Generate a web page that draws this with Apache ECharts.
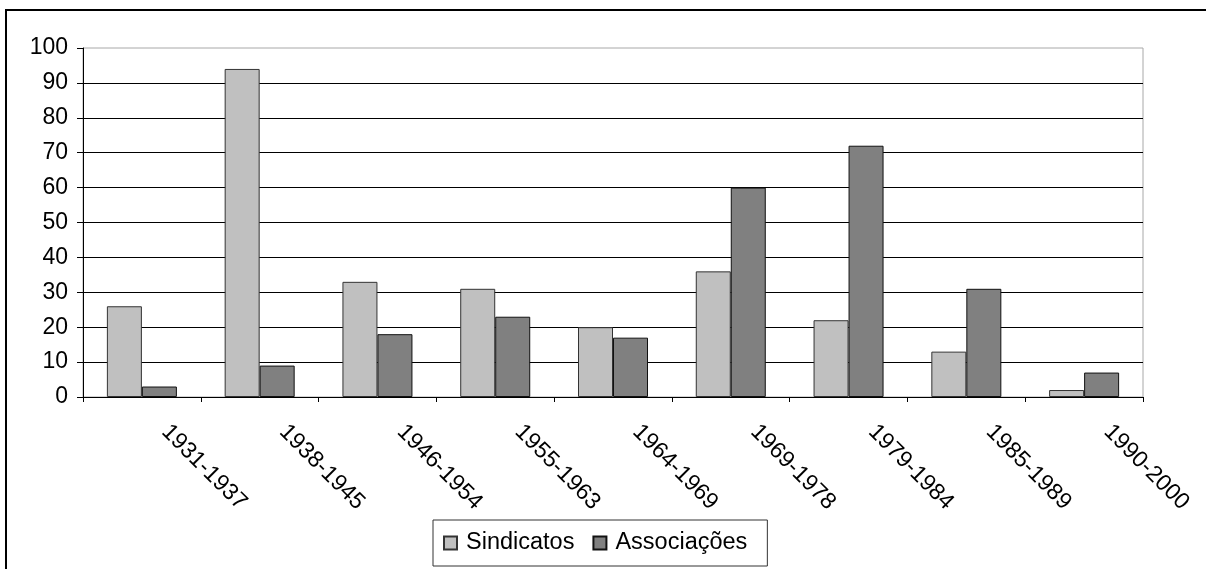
<!DOCTYPE html>
<html>
<head>
<meta charset="utf-8">
<script src="https://cdn.jsdelivr.net/npm/echarts@6/dist/echarts.min.js"></script>
<style>
  html, body { margin: 0; padding: 0; background: #fff; }
  #chart { width: 1206px; height: 569px; }
</style>
</head>
<body>
<div id="chart"></div>
<script>
// Periods on the horizontal axis
const periods = ['1931-1937', '1938-1945', '1946-1954', '1955-1963', '1964-1969',
                 '1969-1978', '1979-1984', '1985-1989', '1990-2000'];
// Counts per period
const sindicatos = [26, 94, 33, 31, 20, 36, 22, 13, 2];
const associacoes = [3, 9, 18, 23, 17, 60, 72, 31, 7];
const seriesNames = ['Sindicatos', 'Associações'];

const FONT = "'Liberation Sans', Arial, sans-serif";

const chart = echarts.init(document.getElementById('chart'), null, { renderer: 'canvas' });

chart.setOption({
  backgroundColor: '#ffffff',
  animation: false,
  textStyle: { fontFamily: FONT, color: '#000' },
  graphic: [
    {
      type: 'rect',
      shape: { x: 6, y: 10, width: 1400, height: 800 },
      style: { fill: 'none', stroke: '#000', lineWidth: 2 },
      silent: true
    }
  ],
  grid: {
    left: 83, right: 63, top: 48, bottom: 172,
    show: true,
    borderColor: '#a8a8a8',
    borderWidth: 1,
    backgroundColor: 'transparent'
  },
  legend: {
    data: seriesNames,
    left: 433,
    top: 520,
    orient: 'horizontal',
    icon: 'rect',
    itemWidth: 13,
    itemHeight: 13,
    itemGap: 18,
    padding: [11, 20, 11, 10],
    borderColor: '#333',
    borderWidth: 1,
    textStyle: {
      fontFamily: FONT,
      fontSize: 23.5,
      color: '#000',
      lineHeight: 24,
      padding: [0, 0, 0, 4]
    }
  },
  xAxis: {
    type: 'category',
    data: periods,
    boundaryGap: true,
    axisLine: { lineStyle: { color: '#000', width: 1 } },
    axisTick: { show: true, length: 5, alignWithLabel: false, lineStyle: { color: '#000' } },
    axisLabel: {
      rotate: -45,
      fontFamily: FONT,
      fontSize: 23,
      color: '#000',
      margin: 8,
      padding: [0, 0, 0, 33],
      interval: 0
    },
    splitLine: { show: false }
  },
  yAxis: {
    type: 'value',
    min: 0,
    max: 100,
    interval: 10,
    axisLine: { show: true, lineStyle: { color: '#000', width: 1 } },
    axisTick: { show: true, length: 6, lineStyle: { color: '#000' } },
    axisLabel: { fontFamily: FONT, fontSize: 23, color: '#000', margin: 15 },
    splitLine: { show: true, showMaxLine: false, lineStyle: { color: '#000', width: 1 } }
  },
  series: [
    {
      name: seriesNames[0],
      type: 'bar',
      data: sindicatos,
      barWidth: 35,
      barGap: '0%',
      itemStyle: { color: '#c0c0c0', borderColor: '#333', borderWidth: 1 }
    },
    {
      name: seriesNames[1],
      type: 'bar',
      data: associacoes,
      barWidth: 35,
      barGap: '0%',
      itemStyle: { color: '#808080', borderColor: '#111', borderWidth: 1 }
    }
  ]
});
</script>
</body>
</html>
